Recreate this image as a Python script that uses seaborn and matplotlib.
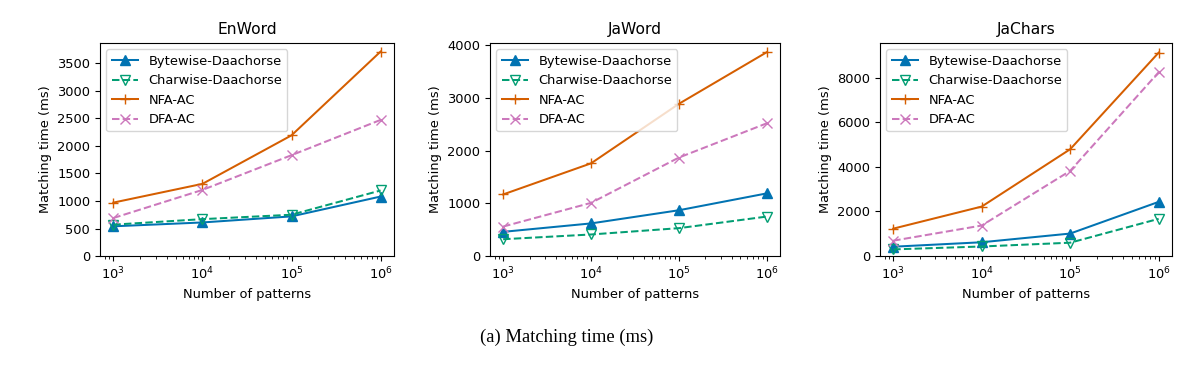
import matplotlib
matplotlib.use("Agg")
import matplotlib.pyplot as plt
import seaborn as sns
import pandas as pd

patterns = [1e3, 1e4, 1e5, 1e6]
series_names = ["Bytewise-Daachorse", "Charwise-Daachorse", "NFA-AC", "DFA-AC"]
panel_titles = ["EnWord", "JaWord", "JaChars"]

enword_bytewise = [540, 610, 720, 1080]
enword_charwise = [570, 670, 750, 1190]
enword_nfa = [970, 1310, 2190, 3710]
enword_dfa = [690, 1200, 1830, 2470]

jaword_bytewise = [460, 620, 870, 1190]
jaword_charwise = [320, 410, 530, 750]
jaword_nfa = [1170, 1760, 2890, 3870]
jaword_dfa = [560, 1010, 1870, 2520]

jachars_bytewise = [420, 620, 1010, 2430]
jachars_charwise = [300, 430, 600, 1670]
jachars_nfa = [1230, 2220, 4790, 9120]
jachars_dfa = [690, 1370, 3820, 8240]

panels = [
    [enword_bytewise, enword_charwise, enword_nfa, enword_dfa],
    [jaword_bytewise, jaword_charwise, jaword_nfa, jaword_dfa],
    [jachars_bytewise, jachars_charwise, jachars_nfa, jachars_dfa],
]

pal = sns.color_palette("colorblind")
styles = [
    dict(color=pal[0], marker="^", linestyle="-", mfc=pal[0]),
    dict(color=pal[2], marker="v", linestyle="--", mfc="none"),
    dict(color=pal[3], marker="+", linestyle="-", mfc=pal[3]),
    dict(color=pal[4], marker="x", linestyle="--", mfc=pal[4]),
]

fs = 9.4
fig = plt.figure(figsize=(12, 3.69), dpi=100)
lefts = [0.0833, 0.4083, 0.7333]
widths = [0.245, 0.2417, 0.2433]
bottom, height = 0.306, 0.578

for i, (vals, title) in enumerate(zip(panels, panel_titles)):
    ax = fig.add_axes([lefts[i], bottom, widths[i], height])
    for name, y, st in zip(series_names, vals, styles):
        df = pd.DataFrame({"x": patterns, "y": y})
        sns.lineplot(data=df, x="x", y="y", ax=ax, label=name,
                     color=st["color"], marker=st["marker"],
                     linestyle=st["linestyle"], mfc=st["mfc"],
                     mec=st["color"], mew=1.0, ms=6.5, lw=1.45)
    ax.set_xscale("log")
    ax.set_ylim(bottom=0)
    ax.set_title(title, fontsize=11.2)
    ax.set_xlabel("Number of patterns", fontsize=fs)
    ax.set_ylabel("Matching time (ms)", fontsize=fs)
    ax.tick_params(labelsize=fs)
    ax.legend(loc="upper left", fontsize=fs)

fig.text(0.4725, 0.087, "(a) Matching time (ms)", ha="center", va="center",
         fontsize=13.4, family="Liberation Serif")

fig.savefig("out.png", dpi=100)
